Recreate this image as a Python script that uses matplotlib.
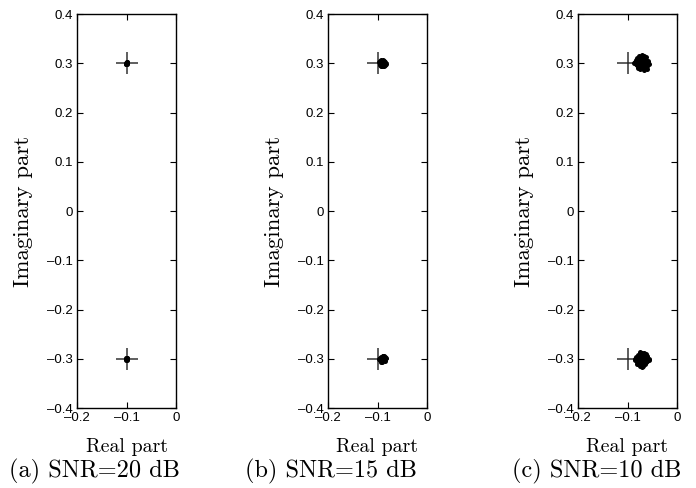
import matplotlib
matplotlib.use("Agg")
import matplotlib.pyplot as plt

# ---- data ----
plus_x = [-0.1, -0.1]
plus_y = [0.3, -0.3]

xa_up = [-0.100, -0.098, -0.102, -0.099, -0.101, -0.100, -0.098, -0.102]
ya_up = [0.300, 0.301, 0.299, 0.302, 0.298, 0.303, 0.299, 0.301]
xa_lo = [-0.100, -0.102, -0.098, -0.101, -0.099, -0.100, -0.102, -0.098]
ya_lo = [-0.300, -0.301, -0.299, -0.302, -0.298, -0.303, -0.299, -0.301]

xb_up = [-0.090, -0.087, -0.093, -0.088, -0.092, -0.085, -0.095, -0.089, -0.091, -0.086,
         -0.094, -0.086, -0.094, -0.084, -0.096, -0.088, -0.090, -0.083, -0.087, -0.092,
         -0.089, -0.091, -0.088, -0.084, -0.093]
yb_up = [0.300, 0.302, 0.301, 0.297, 0.298, 0.300, 0.299, 0.305, 0.295, 0.304,
         0.304, 0.296, 0.297, 0.302, 0.302, 0.306, 0.294, 0.299, 0.294, 0.306,
         0.301, 0.302, 0.299, 0.297, 0.294]
xb_lo = [-0.089, -0.092, -0.086, -0.091, -0.087, -0.094, -0.084, -0.090, -0.088, -0.093,
         -0.085, -0.093, -0.085, -0.095, -0.083, -0.091, -0.089, -0.096, -0.092, -0.087,
         -0.090, -0.088, -0.091, -0.095, -0.086]
yb_lo = [-0.300, -0.302, -0.299, -0.297, -0.303, -0.300, -0.301, -0.305, -0.295, -0.304,
         -0.296, -0.296, -0.304, -0.302, -0.298, -0.306, -0.294, -0.301, -0.306, -0.294,
         -0.299, -0.301, -0.302, -0.298, -0.303]

xc_up = [-0.071, -0.066, -0.076, -0.068, -0.074, -0.062, -0.080, -0.070, -0.072, -0.064,
         -0.078, -0.065, -0.077, -0.059, -0.083, -0.069, -0.073, -0.060, -0.082, -0.067,
         -0.075, -0.063, -0.079, -0.071, -0.070, -0.058, -0.084, -0.066, -0.076, -0.061,
         -0.081, -0.069, -0.073, -0.065, -0.077, -0.072, -0.068, -0.074, -0.062, -0.080,
         -0.056, -0.086, -0.070, -0.067, -0.075]
yc_up = [0.301, 0.305, 0.297, 0.292, 0.309, 0.300, 0.302, 0.312, 0.290, 0.309,
         0.294, 0.294, 0.308, 0.304, 0.298, 0.299, 0.303, 0.295, 0.306, 0.314,
         0.288, 0.312, 0.291, 0.296, 0.306, 0.301, 0.302, 0.287, 0.315, 0.289,
         0.311, 0.307, 0.294, 0.302, 0.300, 0.309, 0.297, 0.292, 0.305, 0.296,
         0.299, 0.301, 0.317, 0.291, 0.303]
xc_lo = [-0.072, -0.067, -0.075, -0.069, -0.073, -0.063, -0.079, -0.071, -0.070, -0.065,
         -0.077, -0.066, -0.076, -0.060, -0.082, -0.068, -0.074, -0.061, -0.081, -0.068,
         -0.074, -0.064, -0.078, -0.072, -0.069, -0.057, -0.085, -0.067, -0.075, -0.062,
         -0.080, -0.070, -0.072, -0.064, -0.078, -0.071, -0.069, -0.073, -0.063, -0.079,
         -0.057, -0.085, -0.071, -0.066, -0.076]
yc_lo = [-0.300, -0.304, -0.296, -0.291, -0.310, -0.301, -0.303, -0.313, -0.289, -0.308,
         -0.295, -0.293, -0.309, -0.305, -0.297, -0.298, -0.304, -0.294, -0.307, -0.315,
         -0.287, -0.311, -0.292, -0.297, -0.305, -0.300, -0.303, -0.288, -0.314, -0.290,
         -0.310, -0.306, -0.295, -0.303, -0.299, -0.308, -0.296, -0.293, -0.306, -0.295,
         -0.302, -0.300, -0.316, -0.290, -0.304]

xticks = [-0.2, -0.1, 0.0]
xticklabels = ["\u20130.2", "\u20130.1", "0"]
yticks = [-0.4, -0.3, -0.2, -0.1, 0.0, 0.1, 0.2, 0.3, 0.4]
yticklabels = ["\u20130.4", "\u20130.3", "\u20130.2", "\u20130.1", "0", "0.1", "0.2", "0.3", "0.4"]
captions = ["(a) SNR=20 dB", "(b) SNR=15 dB", "(c) SNR=10 dB"]

panels = [
    (xa_up + xa_lo, ya_up + ya_lo),
    (xb_up + xb_lo, yb_up + yb_lo),
    (xc_up + xc_lo, yc_up + yc_lo),
]

# ---- figure ----
W, H = 696, 488
fig = plt.figure(figsize=(W / 100, H / 100), dpi=100)
lefts = [77, 328, 578]
cap_centers = [94, 331, 597]
ax_w, top, bottom = 99, 14, 408

serif = "cmr10"
tickfont = "Liberation Sans"

for i, (px, py) in enumerate(panels):
    l = lefts[i]
    ax = fig.add_axes([l / W, 1 - bottom / H, ax_w / W, (bottom - top) / H])
    ax.plot(plus_x, plus_y, linestyle="none", marker="+", markersize=16,
            markeredgewidth=1.1, color="0.2", zorder=2)
    ax.plot(px, py, linestyle="none", marker="o", markersize=3.6,
            markeredgewidth=0, color="black", zorder=3)
    ax.set_xlim(-0.2, 0)
    ax.set_ylim(-0.4, 0.4)
    ax.set_xticks(xticks)
    ax.set_xticklabels(xticklabels, fontfamily=tickfont, fontsize=9.5)
    ax.set_yticks(yticks)
    ax.set_yticklabels(yticklabels, fontfamily=tickfont, fontsize=9.5)
    ax.tick_params(direction="in", length=4, width=0.8, top=True, right=True, pad=3)
    for s in ax.spines.values():
        s.set_linewidth(1.0)
    ax.set_xlabel("Real part", fontfamily=serif, fontsize=14.3)
    ax.xaxis.set_label_coords(0.5, -0.077)
    ax.set_ylabel("Imaginary part", fontfamily=serif, fontsize=16.5)
    ax.yaxis.set_label_coords(-0.44, 0.5)
    fig.text(cap_centers[i] / W, 1 - 471 / H, captions[i], fontfamily=serif,
             fontsize=17.5, ha="center", va="center")

fig.savefig("out.png", dpi=100)
